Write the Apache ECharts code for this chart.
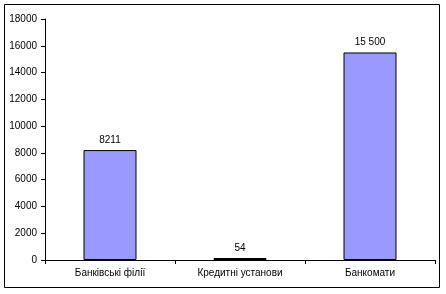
<!DOCTYPE html>
<html>
<head>
<meta charset="utf-8">
<script src="https://cdn.jsdelivr.net/npm/echarts@6/dist/echarts.min.js"></script>
<style>
html, body { margin: 0; padding: 0; background: #fff; }
#chart { width: 446px; height: 294px; }
</style>
</head>
<body>
<div id="chart"></div>
<script>
// дані з рисунка
var categories = ['Банківські філії', 'Кредитні установи', 'Банкомати'];
var values = [8211, 54, 15500];
var valueLabels = ['8211', '54', '15 500'];

var myChart = echarts.init(document.getElementById('chart'));

myChart.setOption({
    animation: false,
    textStyle: { fontFamily: 'Liberation Sans, Arial, sans-serif' },
    graphic: [{
        type: 'rect',
        shape: { x: 4.5, y: 4.5, width: 435, height: 283 },
        style: { fill: 'none', stroke: '#000', lineWidth: 1 },
        silent: true
    }],
    grid: {
        left: 45,
        right: 11,
        top: 19,
        bottom: 34
    },
    xAxis: {
        type: 'category',
        data: categories,
        axisLine: { lineStyle: { color: '#000', width: 1 } },
        axisTick: { show: true, length: 4, lineStyle: { color: '#000' } },
        axisLabel: { color: '#000', fontSize: 10, margin: 8 }
    },
    yAxis: {
        type: 'value',
        min: 0,
        max: 18000,
        interval: 2000,
        splitLine: { show: false },
        axisLine: { show: true, lineStyle: { color: '#000', width: 1 } },
        axisTick: { show: true, length: 4, lineStyle: { color: '#000' } },
        axisLabel: {
            color: '#000',
            fontSize: 10,
            margin: 8,
            formatter: function (v) { return String(v); }
        }
    },
    series: [{
        type: 'bar',
        data: values,
        barWidth: 53,
        barMinHeight: 2,
        itemStyle: {
            color: '#9999FF',
            borderColor: '#000',
            borderWidth: 1
        },
        label: {
            show: true,
            position: 'top',
            distance: 5,
            color: '#000',
            fontSize: 10,
            formatter: function (p) { return valueLabels[p.dataIndex]; }
        }
    }]
});
</script>
</body>
</html>
